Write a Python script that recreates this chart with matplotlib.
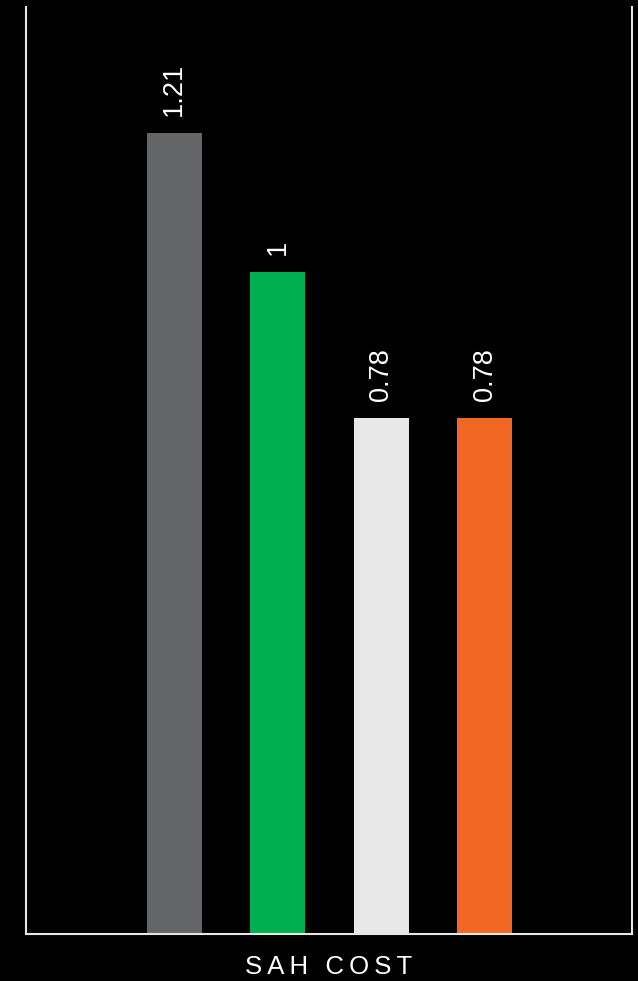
import matplotlib
matplotlib.use("Agg")
import matplotlib.pyplot as plt

series = ["A", "B", "C", "D"]
values = [1.21, 1.0, 0.78, 0.78]
labels = ["1.21", "1", "0.78", "0.78"]
colors = ["#646567", "#00AF50", "#E8E8E8", "#F26724"]
category = "SAH COST"

plt.rcParams['font.family'] = ['Liberation Sans', 'DejaVu Sans']

fig = plt.figure(figsize=(6.38, 9.81), dpi=100, facecolor="black")
ax = fig.add_axes([26/638, 47/981, 606/638, 927/981])
ax.set_facecolor("black")

xs = list(range(len(values)))
bars = ax.bar(xs, values, width=0.53, color=colors)
for x, v, lab in zip(xs, values, labels):
    ax.annotate(lab, (x, v), xytext=(0, 12), textcoords="offset points",
                rotation=90, ha="center", va="bottom", color="white", fontsize=19.5)

ax.set_xlim(-1.43, 4.42)
ax.set_ylim(0, 1.4)
ax.set_xticks([])
ax.set_yticks([])
for s in ["left", "right", "bottom"]:
    ax.spines[s].set_color("#e6e6e6")
    ax.spines[s].set_linewidth(1.5)
ax.spines["top"].set_visible(False)

spaced = "\u2009".join(category)
fig.text((26 + 303) / 638, 1 - 967/981, spaced, ha="center", va="center",
         color="white", fontsize=18.5)

fig.savefig("out.png", dpi=100, facecolor="black")
